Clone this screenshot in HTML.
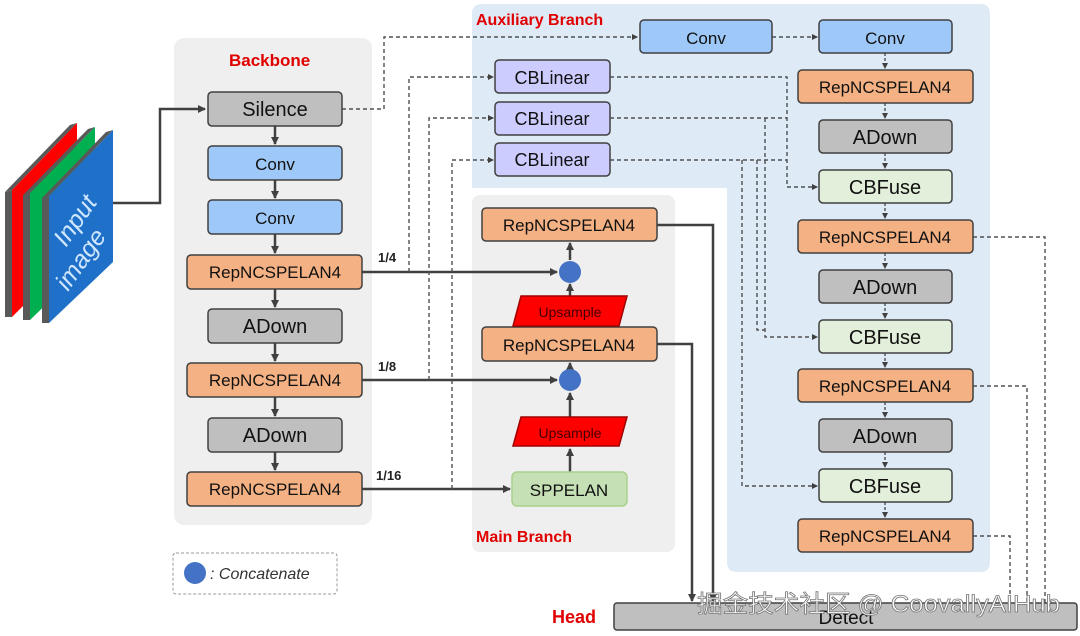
<!DOCTYPE html>
<html><head><meta charset="utf-8"><style>
html,body{margin:0;padding:0;background:#fff;}
svg{display:block;}
text{font-family:"Liberation Sans",Arial,sans-serif;}
</style></head><body>
<svg width="1080" height="636" viewBox="0 0 1080 636" xmlns="http://www.w3.org/2000/svg">
<defs>
<marker id="a" markerWidth="8" markerHeight="8" refX="7" refY="4" orient="auto" markerUnits="userSpaceOnUse"><path d="M0,0 L8,4 L0,8 z" fill="#404040"/></marker>
<marker id="s" markerWidth="6" markerHeight="6" refX="5" refY="3" orient="auto" markerUnits="userSpaceOnUse"><path d="M0,0 L6,3 L0,6 z" fill="#404040"/></marker>
</defs>
<rect x="174" y="38" width="198" height="487" rx="10" fill="#efefef"/>
<path d="M482,4 H980 Q990,4 990,14 V562 Q990,572 980,572 H737 Q727,572 727,562 V188 H472 V14 Q472,4 482,4 Z" fill="#deeaf6"/>
<rect x="472" y="195" width="203" height="357" rx="8" fill="#efefef"/>
<text x="229" y="66" font-size="17" font-weight="bold" fill="#e00000">Backbone</text>
<text x="476" y="25" font-size="16" font-weight="bold" fill="#e00000">Auxiliary  Branch</text>
<text x="476" y="542" font-size="16" font-weight="bold" fill="#e00000">Main  Branch</text>
<text x="552" y="623" font-size="18" font-weight="bold" fill="#e00000">Head</text>

<g>
<polygon points="5,192 12,190 77,123 70,125" fill="#595959"/>
<polygon points="5,192 12,190 12,317 5,317" fill="#595959"/>
<polygon points="12,190 77,123 77,252 12,317" fill="#ff0000"/>
<polygon points="23,195 30,193 95,127 88,129" fill="#595959"/>
<polygon points="23,195 30,193 30,320 23,320" fill="#595959"/>
<polygon points="30,193 95,127 95,257 30,320" fill="#00b050"/>
<polygon points="42,198 49,196 113,130 106,132" fill="#595959"/>
<polygon points="42,198 49,196 49,323 42,323" fill="#595959"/>
<polygon points="49,196 113,130 113,262 49,323" fill="#1f70c8"/>
<text x="0" y="0" font-size="25" font-style="italic" fill="#cfe6ff" transform="translate(66,248) rotate(-55)">Input</text>
<text x="0" y="0" font-size="25" font-style="italic" fill="#cfe6ff" transform="translate(68,292) rotate(-55)">image</text>
</g>

<g fill="none" stroke="#404040" stroke-width="2.5">
<polyline points="113,203 160,203 160,109 205,109" marker-end="url(#a)"/>
<line x1="275" y1="126" x2="275" y2="144" marker-end="url(#a)"/>
<line x1="275" y1="180" x2="275" y2="198" marker-end="url(#a)"/>
<line x1="275" y1="234" x2="275" y2="253" marker-end="url(#a)"/>
<line x1="275" y1="289" x2="275" y2="307" marker-end="url(#a)"/>
<line x1="275" y1="343" x2="275" y2="361" marker-end="url(#a)"/>
<line x1="275" y1="397" x2="275" y2="416" marker-end="url(#a)"/>
<line x1="275" y1="452" x2="275" y2="470" marker-end="url(#a)"/>
<line x1="362" y1="272" x2="557" y2="272" marker-end="url(#a)"/>
<line x1="362" y1="380" x2="557" y2="380" marker-end="url(#a)"/>
<line x1="362" y1="489" x2="510" y2="489" marker-end="url(#a)"/>
<line x1="570" y1="472" x2="570" y2="449" marker-end="url(#a)"/>
<line x1="570" y1="417" x2="570" y2="393" marker-end="url(#a)"/>
<line x1="570" y1="369" x2="570" y2="363" marker-end="url(#a)"/>
<line x1="570" y1="296" x2="570" y2="284" marker-end="url(#a)"/>
<line x1="570" y1="260" x2="570" y2="243" marker-end="url(#a)"/>
<polyline points="657,225 713,225 713,601" marker-end="url(#a)"/>
<polyline points="657,344 692,344 692,601" marker-end="url(#a)"/>
</g>
<text x="378" y="262" font-size="13" font-weight="bold" fill="#222">1/4</text>
<text x="378" y="371" font-size="13" font-weight="bold" fill="#222">1/8</text>
<text x="376" y="480" font-size="13" font-weight="bold" fill="#222">1/16</text>

<g fill="none" stroke="#505050" stroke-width="1.4" stroke-dasharray="4,3">
<polyline points="342,109 384,109 384,37 637,37" marker-end="url(#s)"/>
<line x1="772" y1="37" x2="817" y2="37" marker-end="url(#s)"/>
<polyline points="409,272 409,77 493,77" marker-end="url(#s)"/>
<polyline points="429,380 429,118 493,118" marker-end="url(#s)"/>
<polyline points="452,489 452,160 493,160" marker-end="url(#s)"/>
<polyline points="610,77 787,77 787,187 817,187" marker-end="url(#s)"/>
<polyline points="610,118 787,118"/>
<polyline points="610,160 787,160"/>
<polyline points="765,118 765,337 817,337" marker-end="url(#s)"/>
<polyline points="757,160 757,330 765,330"/>
<polyline points="742,160 742,486 817,486" marker-end="url(#s)"/>
<polyline points="973,237 1045,237 1045,603"/>
<polyline points="973,386 1027,386 1027,603"/>
<polyline points="973,536 1010,536 1010,603"/>
</g>
<g fill="none" stroke="#505050" stroke-width="1.4" stroke-dasharray="3,2">
<line x1="885" y1="53" x2="885" y2="68" marker-end="url(#s)"/>
<line x1="885" y1="103" x2="885" y2="118" marker-end="url(#s)"/>
<line x1="885" y1="153" x2="885" y2="168" marker-end="url(#s)"/>
<line x1="885" y1="203" x2="885" y2="218" marker-end="url(#s)"/>
<line x1="885" y1="253" x2="885" y2="268" marker-end="url(#s)"/>
<line x1="885" y1="303" x2="885" y2="318" marker-end="url(#s)"/>
<line x1="885" y1="353" x2="885" y2="367" marker-end="url(#s)"/>
<line x1="885" y1="402" x2="885" y2="417" marker-end="url(#s)"/>
<line x1="885" y1="452" x2="885" y2="467" marker-end="url(#s)"/>
<line x1="885" y1="502" x2="885" y2="517" marker-end="url(#s)"/>
</g>

<g stroke="#404040" stroke-width="1.5" font-size="18" text-anchor="middle">
<rect x="208" y="92" width="134" height="34" rx="4" fill="#bfbfbf"/>
<rect x="208" y="146" width="134" height="34" rx="4" fill="#9dc8f8"/>
<rect x="208" y="200" width="134" height="34" rx="4" fill="#9dc8f8"/>
<rect x="187" y="255" width="175" height="34" rx="4" fill="#f4b183"/>
<rect x="208" y="309" width="134" height="34" rx="4" fill="#bfbfbf"/>
<rect x="187" y="363" width="175" height="34" rx="4" fill="#f4b183"/>
<rect x="208" y="418" width="134" height="34" rx="4" fill="#bfbfbf"/>
<rect x="187" y="472" width="175" height="34" rx="4" fill="#f4b183"/>

<rect x="640" y="20" width="132" height="33" rx="4" fill="#9dc8f8"/>
<rect x="819" y="20" width="133" height="33" rx="4" fill="#9dc8f8"/>
<rect x="798" y="70" width="175" height="33" rx="4" fill="#f4b183"/>
<rect x="819" y="120" width="133" height="33" rx="4" fill="#bfbfbf"/>
<rect x="819" y="170" width="133" height="33" rx="4" fill="#e2efda"/>
<rect x="798" y="220" width="175" height="33" rx="4" fill="#f4b183"/>
<rect x="819" y="270" width="133" height="33" rx="4" fill="#bfbfbf"/>
<rect x="819" y="320" width="133" height="33" rx="4" fill="#e2efda"/>
<rect x="798" y="369" width="175" height="33" rx="4" fill="#f4b183"/>
<rect x="819" y="419" width="133" height="33" rx="4" fill="#bfbfbf"/>
<rect x="819" y="469" width="133" height="33" rx="4" fill="#e2efda"/>
<rect x="798" y="519" width="175" height="33" rx="4" fill="#f4b183"/>

<rect x="495" y="60" width="115" height="33" rx="4" fill="#ccccff"/>
<rect x="495" y="102" width="115" height="33" rx="4" fill="#ccccff"/>
<rect x="495" y="143" width="115" height="33" rx="4" fill="#ccccff"/>

<rect x="482" y="208" width="175" height="33" rx="4" fill="#f4b183"/>
<rect x="482" y="327" width="175" height="34" rx="4" fill="#f4b183"/>
<rect x="512" y="472" width="115" height="34" rx="5" fill="#c5e0b4" stroke="#a9d18e"/>
<polygon points="521,296 627,296 619,326 513,326" fill="#ff0000" stroke="#a00000"/>
<polygon points="521,417 627,417 619,446 513,446" fill="#ff0000" stroke="#a00000"/>
<rect x="614" y="603" width="463" height="27" rx="3" fill="#bfbfbf"/>
</g>
<circle cx="570" cy="272" r="11" fill="#4472c4"/>
<circle cx="570" cy="380" r="11" fill="#4472c4"/>

<g font-size="19" text-anchor="middle" fill="#111">
<text x="275" y="116" font-size="20">Silence</text>
<text x="275" y="170" font-size="17">Conv</text>
<text x="275" y="224" font-size="17">Conv</text>
<text x="275" y="278" font-size="17">RepNCSPELAN4</text>
<text x="275" y="333" font-size="20">ADown</text>
<text x="275" y="386" font-size="17">RepNCSPELAN4</text>
<text x="275" y="442" font-size="20">ADown</text>
<text x="275" y="495" font-size="17">RepNCSPELAN4</text>

<text x="706" y="44" font-size="17">Conv</text>
<text x="885" y="44" font-size="17">Conv</text>
<text x="885" y="93" font-size="17">RepNCSPELAN4</text>
<text x="885" y="144" font-size="20">ADown</text>
<text x="885" y="194" font-size="20">CBFuse</text>
<text x="885" y="243" font-size="17">RepNCSPELAN4</text>
<text x="885" y="294" font-size="20">ADown</text>
<text x="885" y="344" font-size="20">CBFuse</text>
<text x="885" y="392" font-size="17">RepNCSPELAN4</text>
<text x="885" y="443" font-size="20">ADown</text>
<text x="885" y="493" font-size="20">CBFuse</text>
<text x="885" y="542" font-size="17">RepNCSPELAN4</text>

<text x="552" y="84" font-size="18">CBLinear</text>
<text x="552" y="125" font-size="18">CBLinear</text>
<text x="552" y="166" font-size="18">CBLinear</text>

<text x="569" y="231" font-size="17">RepNCSPELAN4</text>
<text x="569" y="351" font-size="17">RepNCSPELAN4</text>
<text x="569" y="496" font-size="17">SPPELAN</text>
<text x="570" y="317" font-size="14" fill="#400">Upsample</text>
<text x="570" y="438" font-size="14" fill="#400">Upsample</text>
<text x="846" y="624">Detect</text>
</g>

<rect x="173" y="553" width="164" height="41" rx="3" fill="#fff" stroke="#999" stroke-dasharray="3,2"/>
<circle cx="195" cy="573" r="11" fill="#4472c4"/>
<text x="210" y="579" font-size="16" font-style="italic" font-family="Liberation Serif, serif" fill="#333">: Concatenate</text>

<text x="697" y="612" font-size="24" fill="#fff" stroke="#777" stroke-width="0.8" font-family="Liberation Sans, Noto Sans CJK SC, sans-serif" textLength="363" lengthAdjust="spacingAndGlyphs">掘金技术社区 @ CoovallyAIHub</text>
</svg>
</body></html>
